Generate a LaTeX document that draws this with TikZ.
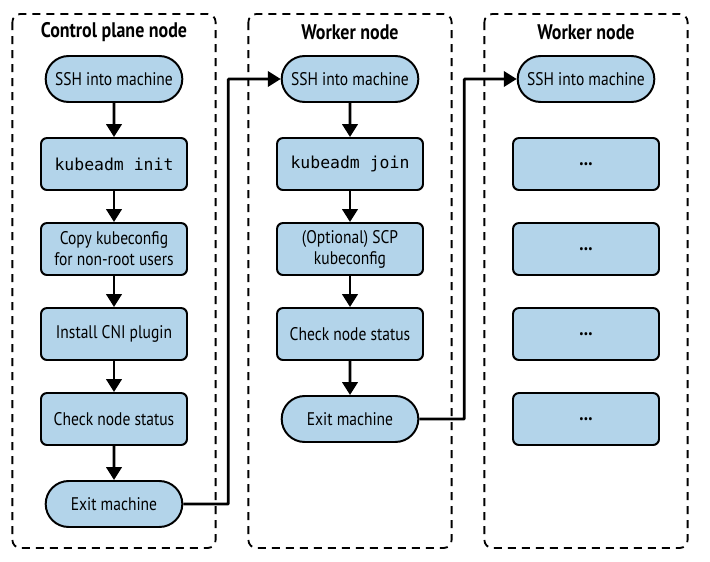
\documentclass[tikz,border=0pt]{standalone}
\usepackage{fontspec}
\setmainfont[FakeStretch=0.85]{PT Sans}
\setmonofont[Scale=0.9]{DejaVu Sans Mono}
\usetikzlibrary{positioning, arrows.meta, calc, shapes.misc}
\definecolor{boxblue}{RGB}{179,212,234}
\tikzset{
  proc/.style={rectangle, rounded corners=1.5mm, draw, fill=boxblue, line width=1.4pt, minimum width=3.65cm, minimum height=1.3cm},
  term/.style={rounded rectangle, draw, fill=boxblue, line width=1.4pt, minimum width=3.65cm, minimum height=1.15cm},
  flow/.style={-{Triangle[length=3.2mm, width=3.8mm]}, line width=2pt}
}
\newcommand{\drawpanel}[3]{%
  \draw[dash pattern=on 2mm off 1.5mm, rounded corners=2mm, line width=1.3pt]
    ($(#1)+(-2.54,1.625)$) rectangle ($(#1)+(2.54,-11.725)$);
  \node[font=\fontsize{15}{18}\selectfont\bfseries] (#2) at ($(#1)+(0,1.175)$) {#3};
}

\begin{document}
\begin{tikzpicture}[
  % centre to centre spacing of the steps
  node distance=2.125cm and 5.9cm, on grid,
  every node/.style={align=center, font=\fontsize{13}{15}\selectfont}
]
  \useasboundingbox (-2.85,1.975) rectangle (14.9,-12.05);

  % Control plane column
  \node[term] (sshA) {SSH into machine};
  \node[proc, below=of sshA] (init) {\texttt{kubeadm init}};
  \node[proc, below=of init] (copycfg) {Copy kubeconfig\\for non-root users};
  \node[proc, below=of copycfg] (cni) {Install CNI plugin};
  \node[proc, below=of cni] (statusA) {Check node status};
  \node[term, below=of statusA] (exitA) {Exit machine};

  % First worker column
  \node[term, right=of sshA] (sshB) {SSH into machine};
  \node[proc, below=of sshB] (join) {\texttt{kubeadm join}};
  \node[proc, below=of join] (scp) {(Optional) SCP\\kubeconfig};
  \node[proc, below=of scp] (statusB) {Check node status};
  \node[term, below=of statusB] (exitB) {Exit machine};

  % Further worker column
  \node[term, right=of sshB] (sshC) {SSH into machine};
  \node[proc, below=of sshC] (dotsA) {\Large\textbf{...}};
  \node[proc, below=of dotsA] (dotsB) {\Large\textbf{...}};
  \node[proc, below=of dotsB] (dotsC) {\Large\textbf{...}};
  \node[proc, below=of dotsC] (dotsD) {\Large\textbf{...}};

  % Steps inside each node
  \draw[flow] (sshA) -- (init);
  \draw[flow] (init) -- (copycfg);
  \draw[flow] (copycfg) -- (cni);
  \draw[flow] (cni) -- (statusA);
  \draw[flow] (statusA) -- (exitA);
  \draw[flow] (sshB) -- (join);
  \draw[flow] (join) -- (scp);
  \draw[flow] (scp) -- (statusB);
  \draw[flow] (statusB) -- (exitB);

  % Hand over to the next machine
  \draw[flow, rounded corners=0.5pt] (exitA.east) -- ++(1.125,0) |- (sshB.west);
  \draw[flow, rounded corners=0.5pt] (exitB.east) -- ++(1.125,0) |- (sshC.west);

  % Dashed frames
  \drawpanel{sshA}{titleA}{Control plane node}
  \drawpanel{sshB}{titleB}{Worker node}
  \drawpanel{sshC}{titleC}{Worker node}

\end{tikzpicture}
\end{document}
